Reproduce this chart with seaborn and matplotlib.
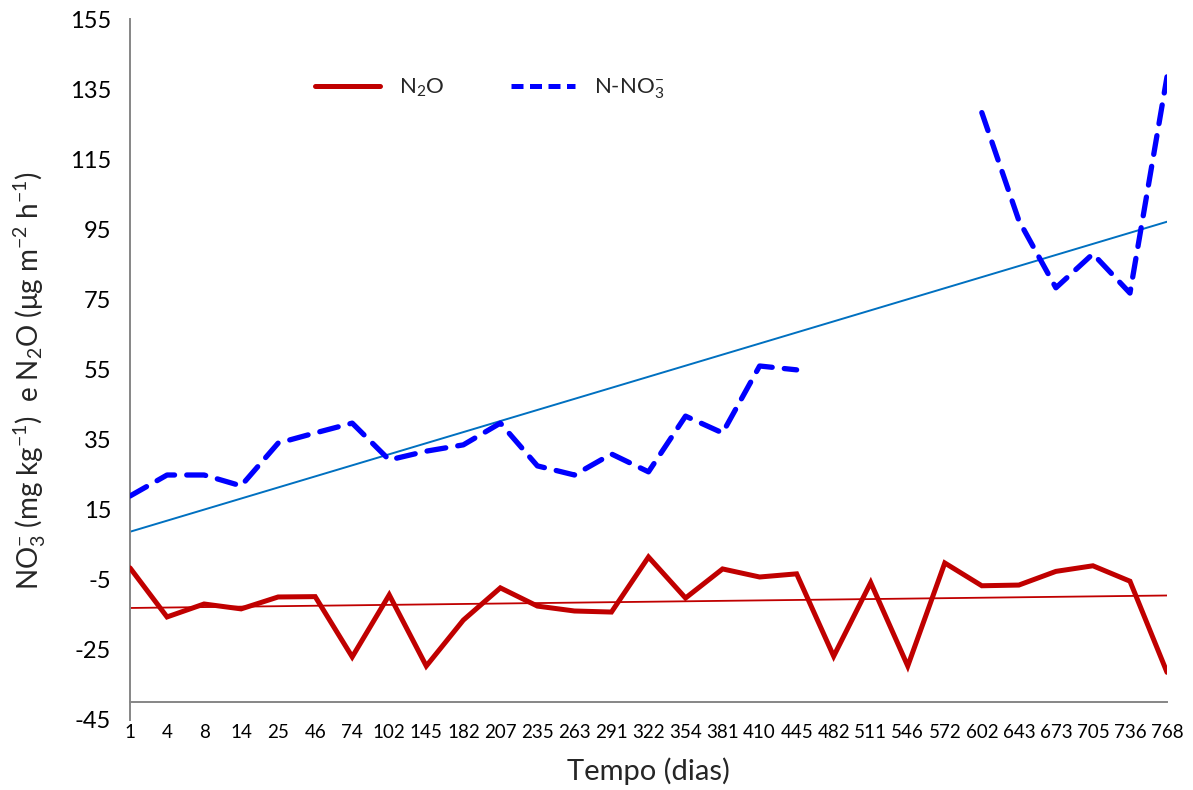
import numpy as np
import pandas as pd
import matplotlib
matplotlib.use("Agg")
import matplotlib.pyplot as plt
from matplotlib.lines import Line2D
import seaborn as sns

# Sampling days (category axis)
dias = [1, 4, 8, 14, 25, 46, 74, 102, 145, 182, 207, 235, 263, 291, 322,
        354, 381, 410, 445, 482, 511, 546, 572, 602, 643, 673, 705, 736, 768]

# N2O flux (µg m-2 h-1)
n2o = [-1.6, -15.6, -11.9, -13.3, -9.9, -9.8, -27.0, -9.3, -29.6, -16.5,
       -7.3, -12.5, -13.9, -14.2, 1.5, -10.2, -1.9, -4.2, -3.3, -26.8,
       -5.8, -29.6, -0.2, -6.7, -6.5, -2.6, -1.0, -5.4, -31.4]

# N-NO3- (mg kg-1); no samples between days 482 and 572
nno3 = [18.9, 24.9, 24.9, 21.8, 34.0, 36.9, 39.7, 29.2, 31.7, 33.5,
        39.7, 27.5, 24.9, 30.9, 25.8, 41.7, 36.9, 56.0, 54.9, np.nan,
        np.nan, np.nan, np.nan, 128.3, 97.5, 78.3, 88.0, 76.8, 138.5]

yticks = list(range(-45, 156, 20))

RED = "#C00000"
BLUE = "#0000FF"
TREND_BLUE = "#0070C0"
AXIS_GRAY = "#868686"

sns.set_theme(style="white")
plt.rcParams["font.family"] = ["Lato", "DejaVu Sans"]
plt.rcParams["mathtext.fontset"] = "custom"
plt.rcParams["mathtext.rm"] = "Lato"
plt.rcParams["mathtext.it"] = "Lato:italic"
plt.rcParams["mathtext.bf"] = "Lato:bold"

pos = np.arange(len(dias))
df = pd.DataFrame({"pos": pos, "dia": dias, "n2o": n2o, "nno3": nno3})
# split the nitrate series where samples are missing so the line breaks
df["seg"] = df["nno3"].isna().cumsum()
nit = df.dropna(subset=["nno3"])

fig = plt.figure(figsize=(11.93, 7.90), dpi=100)
ax = fig.add_axes([130 / 1193, 1 - 720 / 790, 1037 / 1193, 701 / 790])

# linear trend lines
sns.regplot(data=df, x="pos", y="nno3", scatter=False, ci=None, truncate=True,
            ax=ax, line_kws=dict(color=TREND_BLUE, lw=1.4, zorder=2))
sns.regplot(data=df, x="pos", y="n2o", scatter=False, ci=None, truncate=True,
            ax=ax, line_kws=dict(color=RED, lw=1.3, zorder=2))

# measured series
sns.lineplot(data=df, x="pos", y="n2o", ax=ax, color=RED, lw=3.6,
             legend=False, zorder=3, solid_joinstyle="miter")
sns.lineplot(data=nit, x="pos", y="nno3", units="seg", estimator=None, ax=ax,
             color=BLUE, lw=3.8, legend=False, zorder=3,
             dashes=False, linestyle=(0, (3.6, 2.3)), dash_capstyle="round")

ax.set_xlim(0, len(dias) - 1)
ax.set_ylim(-45, 155)
ax.set_xticks(pos)
ax.set_xticklabels([str(d) for d in dias])
ax.set_yticks(yticks)
ax.set_yticklabels([str(t) for t in yticks])

for side in ("top", "right"):
    ax.spines[side].set_visible(False)
for side in ("left", "bottom"):
    ax.spines[side].set_color(AXIS_GRAY)
    ax.spines[side].set_linewidth(1.4)
ax.spines["bottom"].set_position(("data", -40))
ax.tick_params(axis="both", direction="out", length=5.5, width=1.4,
               color=AXIS_GRAY, labelcolor="black")
ax.tick_params(axis="x", pad=10, labelsize=13.5)
ax.tick_params(axis="y", pad=8, labelsize=17)

ax.set_xlabel("Tempo (dias)", fontsize=21, labelpad=12)
ax.set_ylabel(r"NO$_3^{-}$ (mg kg$^{-1}$)  e N$_2$O ($\mathrm{\mu}$g m$^{-2}$ h$^{-1}$)",
              fontsize=20)
ax.yaxis.set_label_coords(-0.079, 0.484)

handles = [
    Line2D([0], [0], color=RED, lw=3.6),
    Line2D([0], [0], color=BLUE, lw=3.6, linestyle=(0, (2.4, 1.3))),
]
labels = [r"N$_2$O", r"N-NO$_3^{-}$"]
ax.legend(handles, labels, loc="center left", bbox_to_anchor=(0.17, 0.9),
          ncol=2, frameon=False, fontsize=16, handlelength=2.9,
          handletextpad=0.85, columnspacing=3.0, borderaxespad=0)

fig.savefig("out.png", dpi=100)
